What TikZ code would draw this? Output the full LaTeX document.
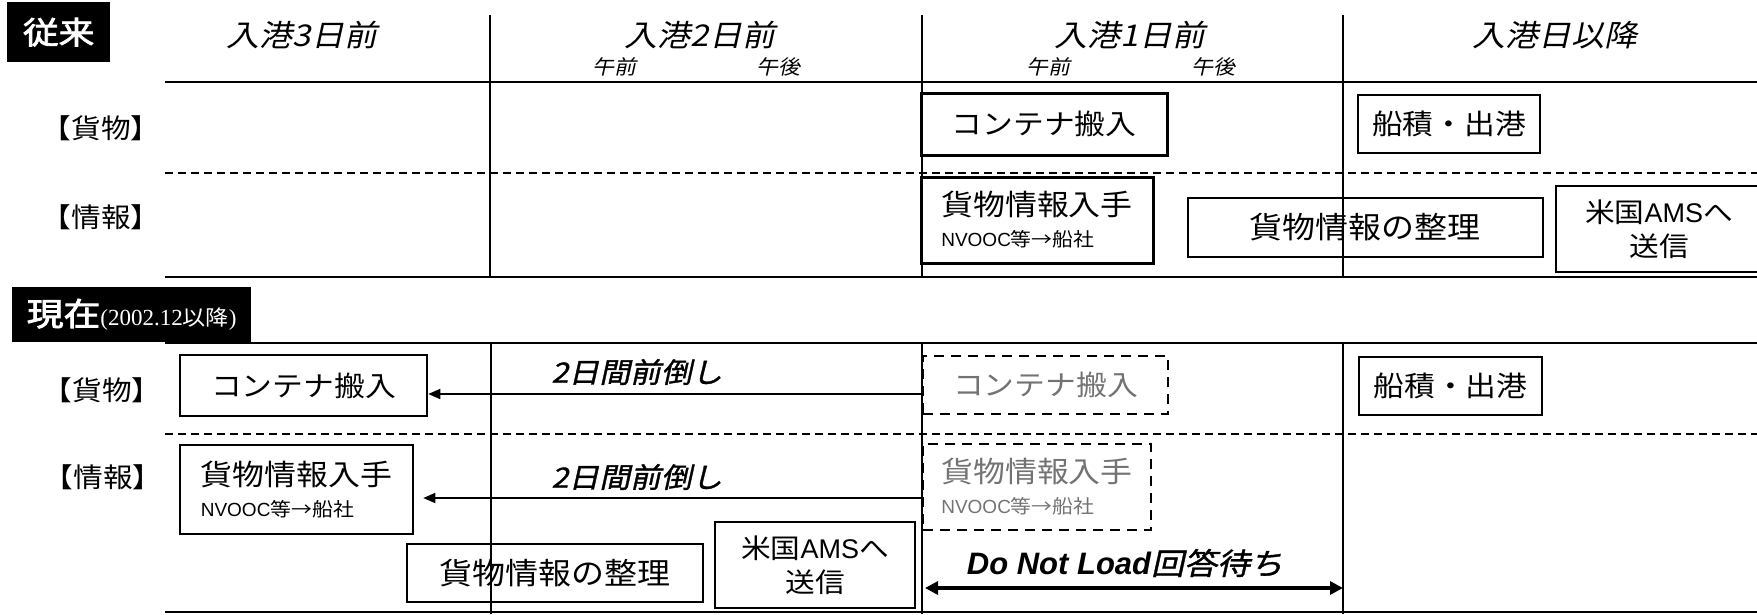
\documentclass[tikz,border=0pt]{standalone}
\usepackage{fontspec}
\usetikzlibrary{arrows.meta}
\setmainfont{Noto Sans CJK JP}
\newfontfamily\jp{Noto Sans CJK JP}[FakeStretch=1.1]
\newfontfamily\jpit{Noto Sans CJK JP}[FakeSlant=0.22,FakeStretch=1.1]
\newfontfamily\jpbi{Noto Sans CJK JP}[FakeSlant=0.22,FakeBold=1.2,FakeStretch=1.1]
\newfontfamily\jpb{Noto Sans CJK JP}[FakeBold=2.5,FakeStretch=1.15]
\newfontfamily\lat{Liberation Sans}
\newfontfamily\ser{Liberation Serif}
\tikzset{
  gridline/.style={line width=1.5pt},
  dgrid/.style={line width=1.5pt, dash pattern=on 8pt off 5pt},
  box/.style={draw, line width=2pt, inner sep=0pt, align=center, font=\jp\fontsize{28}{34}\selectfont},
  thickbox/.style={box, line width=3pt},
  dbox/.style={box, line width=1.8pt, dash pattern=on 10pt off 7pt, text=black!55},
  rowlab/.style={font=\jp\fontsize{27}{30}\selectfont},
  dayhead/.style={font=\jpit\fontsize{30}{32}\selectfont},
  ampm/.style={font=\jpit\fontsize{20}{22}\selectfont},
  shiftlab/.style={font=\jpbi\fontsize{28}{30}\selectfont},
  arr/.style={line width=1.5pt, -{Triangle[length=12pt,width=10pt]}},
  darr/.style={line width=4.5pt, {Triangle[length=13pt,width=13pt]}-{Triangle[length=13pt,width=13pt]}},
  tag/.style={fill=black, text=white, inner sep=0pt, anchor=north west},
}
\begin{document}
\begin{tikzpicture}[x=1pt,y=-1pt]
\useasboundingbox (0,0) rectangle (1757,614);

% ===== top section (従来) =====
\node[tag, minimum width=103pt, minimum height=60pt, font=\jpb\fontsize{31}{32}\selectfont] (tagOld) at (7,2) {従来};

\node[dayhead] (h3) at (302,35) {入港3日前};
\node[dayhead] (h2) at (700,35) {入港2日前};
\node[dayhead] (h1) at (1130,35) {入港1日前};
\node[dayhead] (h0) at (1555,35) {入港日以降};
\node[ampm] (am2) at (614,67) {午前};
\node[ampm] (pm2) at (778,67) {午後};
\node[ampm] (am1) at (1048,67) {午前};
\node[ampm] (pm1) at (1213,67) {午後};

\draw[gridline] (165,82) -- (1757,82);
\draw[dgrid] (165,173) -- (1757,173);
\draw[gridline] (165,277) -- (1757,277);
\draw[gridline] (490,15) -- (490,277);
\draw[gridline] (922,15) -- (922,277);
\draw[gridline] (1343,15) -- (1343,277);

\node[rowlab] (rc1) at (101,128) {【貨物】};
\node[rowlab] (ri1) at (101,217) {【情報】};

\node[thickbox, minimum width=246pt, minimum height=62pt] (cA) at (1044,124) {コンテナ搬入};
\node[box, minimum width=182pt, minimum height=58pt] (sA) at (1449,124) {船積・出港};
\node[thickbox, minimum width=232pt, minimum height=86pt, align=left] (iA) at (1037,220)
  {\fontsize{29}{30}\selectfont 貨物情報入手\\[-3pt]{\fontsize{19}{24}\selectfont\lat NVOOC\jp 等→船社}};
\node[box, minimum width=355pt, minimum height=59pt, font=\jp\fontsize{30}{34}\selectfont] (oA) at (1365,227.5) {貨物情報の整理};
\node[box, minimum width=206pt, minimum height=86pt, font=\jp\fontsize{27}{34}\selectfont] (mA) at (1659,229) {米国{\lat AMS}へ\\送信};

% ===== bottom section (現在) =====
\node[tag, minimum width=239pt, minimum height=55pt] (tagNow) at (12,287)
  {{\jpb\fontsize{32}{34}\selectfont 現在}{\ser\fontsize{23}{24}\selectfont (2002.12}{\jp\fontsize{21}{24}\selectfont 以降}{\ser\fontsize{23}{24}\selectfont )}};

\draw[gridline] (165,343) -- (1757,343);
\draw[dgrid] (165,434) -- (1757,434);
\draw[gridline] (165,612) -- (1757,612);
\draw[gridline] (491,343) -- (491,614);
\draw[gridline] (922,343) -- (922,614);
\draw[gridline] (1343,343) -- (1343,614);

\node[rowlab] (rc2) at (102,390) {【貨物】};
\node[rowlab] (ri2) at (103,477) {【情報】};

\node[box, line width=2.5pt, minimum width=247pt, minimum height=61pt] (cB) at (303.5,385.5) {コンテナ搬入};
\node[dbox, minimum width=245pt, minimum height=58pt] (cD) at (1045.5,385) {コンテナ搬入};
\node[box, minimum width=183pt, minimum height=58pt] (sB) at (1450.5,386) {船積・出港};
\node[box, line width=2.5pt, minimum width=233pt, minimum height=89pt, align=left] (iB) at (296.5,489.5)
  {\fontsize{29}{30}\selectfont 貨物情報入手\\[-3pt]{\fontsize{19}{24}\selectfont\lat NVOOC\jp 等→船社}};
\node[dbox, minimum width=228pt, minimum height=86pt, align=left] (iD) at (1037,487)
  {\fontsize{29}{30}\selectfont 貨物情報入手\\[-3pt]{\fontsize{19}{24}\selectfont\lat NVOOC\jp 等→船社}};
\node[box, minimum width=296pt, minimum height=58pt, font=\jp\fontsize{30}{34}\selectfont] (oB) at (555,573) {貨物情報の整理};
\node[box, minimum width=200pt, minimum height=86pt, font=\jp\fontsize{27}{34}\selectfont] (mB) at (815,565) {米国{\lat AMS}へ\\送信};

% arrows
\coordinate (a1) at (922,394);
\coordinate (a2) at (922,498);
\coordinate (iBt) at ([xshift=9pt]iB.east);
\draw[arr] (a1) -- (a1 -| cB.east);
\draw[arr] (a2) -- (a2 -| iBt);
\node[shiftlab] (lab1) at (637,372) {2日間前倒し};
\node[shiftlab] (lab2) at (637,477) {2日間前倒し};

\coordinate (dl) at (925,588);
\coordinate (dr) at (1343,588);
\draw[darr] (dl) -- (dr);
\node (lab3) at (1125,563) {{\lat\bfseries\itshape\fontsize{31}{32}\selectfont Do Not Load}{\jpbi\fontsize{30}{32}\selectfont 回答待ち}};
\end{tikzpicture}
\end{document}
